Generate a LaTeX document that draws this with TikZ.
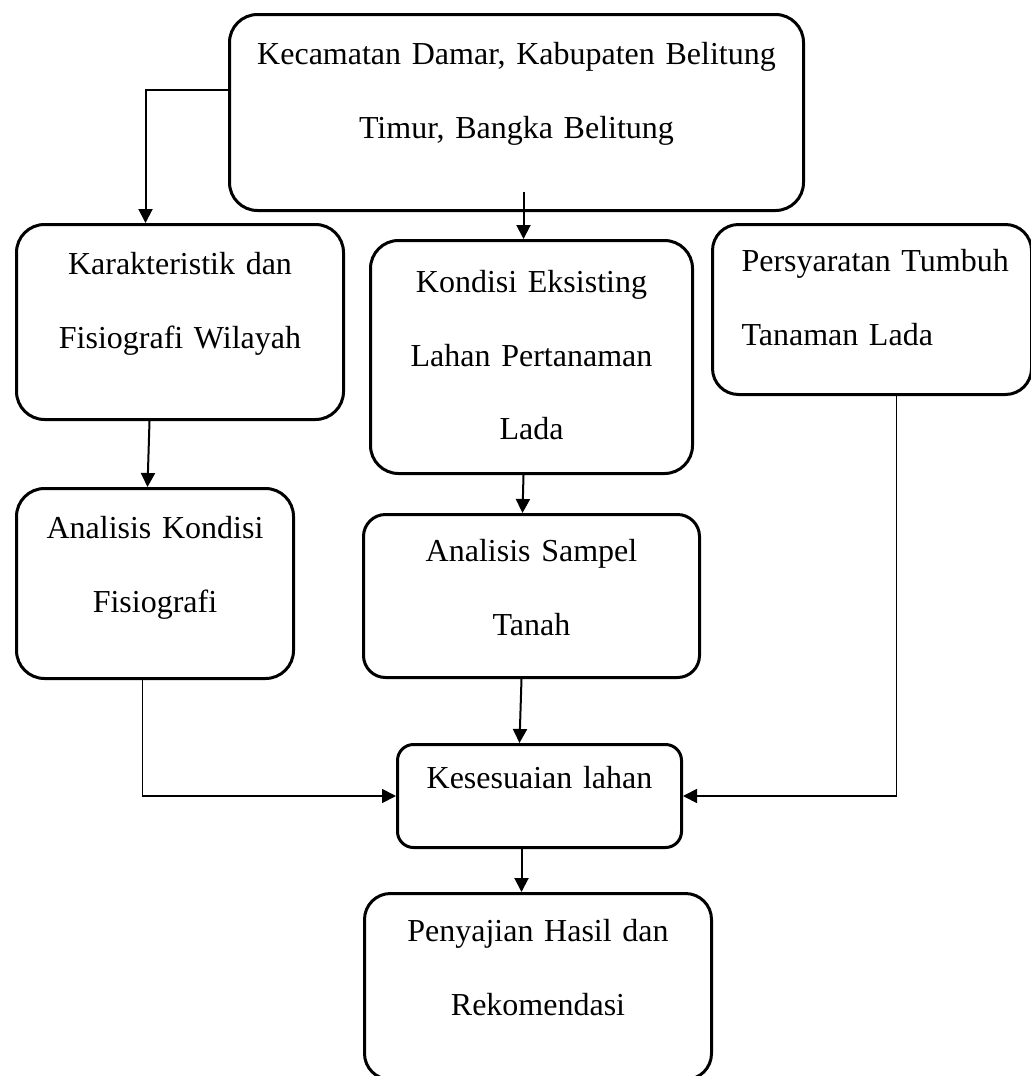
\documentclass[tikz,border=0pt]{standalone}
\usepackage{fontspec}
\setmainfont{Liberation Serif}
\usetikzlibrary{arrows.meta}

\begin{document}
\begin{tikzpicture}[x=0.5pt, y=-0.5pt, >={Triangle[length=7pt, width=7pt]}]
		\tikzstyle{kotak} = [draw, line width=1.5pt, inner sep=0pt, align=center, anchor=north west, font=\fontsize{16}{36.75}\selectfont]
		\tikzstyle{panah} = [->, line width=1pt]
		\tikzstyle{siku} = [->, line width=0.9pt]

		\useasboundingbox (0,0) rectangle (1031,1076);
		\clip (0,0) rectangle (1031,1076);

		\path
		node[kotak, rounded corners=14pt, text width=287pt, text height=25pt, text depth=73pt] (lokasi) at (228,13) {Kecamatan Damar, Kabupaten Belitung\\Timur, Bangka Belitung}
		node[kotak, rounded corners=14pt, text width=163.5pt, text height=25pt, text depth=72.5pt] (karakter) at (15,223) {Karakteristik dan\\Fisiografi Wilayah}
		node[kotak, rounded corners=14pt, text width=161pt, text height=26pt, text depth=90.5pt] (kondisi) at (369,239) {Kondisi Eksisting\\Lahan Pertanaman\\Lada}
		node[kotak, rounded corners=13pt, align=left, text width=159.5pt, text height=23.5pt, text depth=61.5pt] (syarat) at (711,223) {\hspace*{14.5pt}Persyaratan Tumbuh\\\hspace*{14.5pt}Tanaman Lada}
		node[kotak, rounded corners=14pt, text width=138.5pt, text height=25pt, text depth=70pt] (analisis) at (15,487) {Analisis Kondisi\\Fisiografi}
		node[kotak, rounded corners=11pt, text width=168pt, text height=23.5pt, text depth=58pt] (sampel) at (362,513) {Analisis Sampel\\Tanah}
		node[kotak, rounded corners=8pt, text width=142pt, text height=22pt, text depth=29.5pt] (sesuai) at (396,743) {Kesesuaian lahan}
		node[kotak, rounded corners=13pt, text width=173.5pt, text height=24pt, text depth=69pt] (sajian) at (363,892) {Penyajian Hasil dan\\Rekomendasi}
		;

		% straight arrows
		\path[panah]
		([xshift=3.5pt, yshift=10pt]lokasi.south) edge ([xshift=-4pt]kondisi.north)
		([xshift=-15.25pt]karakter.south) edge ([xshift=-3.75pt]analisis.north)
		([xshift=-4pt]kondisi.south) edge ([xshift=-4.5pt]sampel.north)
		([xshift=-5pt]sampel.south) edge ([xshift=-10pt]sesuai.north)
		([xshift=-9pt]sesuai.south) edge ([xshift=-8.25pt]sajian.north)
		;

		% elbow arrows
		\draw[panah] ([yshift=11.5pt]lokasi.west) -| ([xshift=-17.25pt]karakter.north);
		\draw[siku] ([xshift=-6.25pt]analisis.south) |- (sesuai.west);
		\draw[siku] ([xshift=12.25pt]syarat.south) |- (sesuai.east);
\end{tikzpicture}
\end{document}
